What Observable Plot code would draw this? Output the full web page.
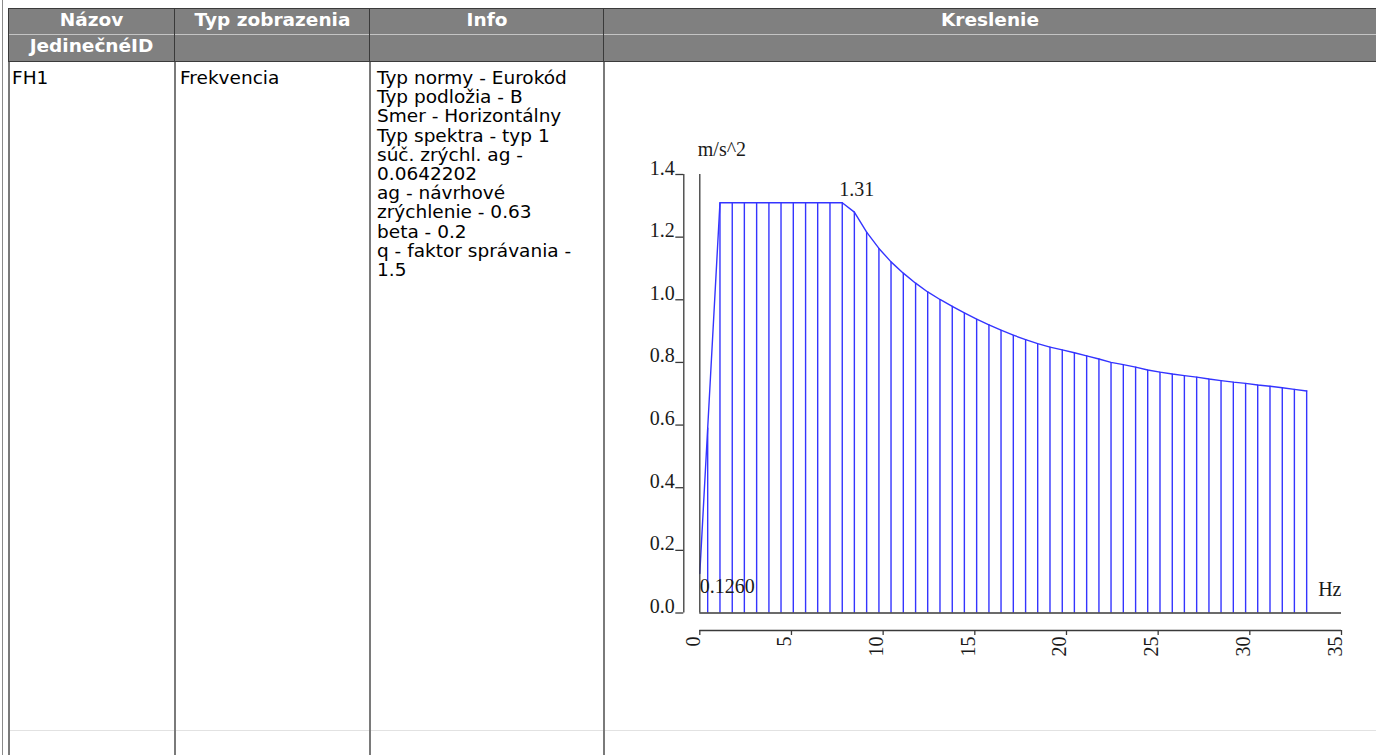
<!DOCTYPE html>
<html>
<head>
<meta charset="utf-8">
<script src="https://cdn.jsdelivr.net/npm/d3@7"></script>
<script src="https://cdn.jsdelivr.net/npm/@observablehq/plot@0.6"></script>
<style>
  html, body { margin: 0; padding: 0; background: #fff; }
  body { width: 1376px; height: 755px; position: relative; overflow: hidden; font-family: "DejaVu Sans", Verdana, sans-serif; }
  .abs { position: absolute; }
  .hdr { position: absolute; color: #fff; font-weight: bold; font-size: 18.5px; text-align: center; white-space: nowrap; }
  .cell { position: absolute; font-size: 18.5px; line-height: 19.2px; color: #000; white-space: pre; }
  #chart { position: absolute; left: 604px; top: 62px; }
</style>
</head>
<body>
<script>
// ---------------- data ----------------
const headers = ["Názov", "Typ zobrazenia", "Info", "Kreslenie"];
const subHeaders = ["JedinečnéID", "", "", ""];
const rowValues = ["FH1", "Frekvencia"];
const infoLines = [
  "Typ normy - Eurokód",
  "Typ podložia - B",
  "Smer - Horizontálny",
  "Typ spektra - typ 1",
  "súč. zrýchl. ag -",
  "0.0642202",
  "ag - návrhové",
  "zrýchlenie - 0.63",
  "beta - 0.2",
  "q - faktor správania -",
  "1.5"
];

// spectrum points: frequency [Hz] and acceleration [m/s^2]
const freq = [0, 0.43, 1.10, 1.77, 2.43, 3.10, 3.77, 4.43, 5.10, 5.77, 6.43, 7.10, 7.77,
  8.43, 9.10, 9.77, 10.43, 11.10, 11.77, 12.43, 13.10, 13.77, 14.43, 15.10, 15.77, 16.43,
  17.10, 17.77, 18.43, 19.10, 19.77, 20.43, 21.10, 21.77, 22.43, 23.10, 23.77, 24.43, 25.10,
  25.77, 26.43, 27.10, 27.77, 28.43, 29.10, 29.77, 30.43, 31.10, 31.77, 32.43, 33.10];
const accel = [0.126, 0.59, 1.31, 1.31, 1.31, 1.31, 1.31, 1.31, 1.31, 1.31, 1.31, 1.31, 1.31,
  1.28, 1.216, 1.164, 1.121, 1.085, 1.053, 1.025, 1.001, 0.979, 0.958, 0.938, 0.920, 0.903,
  0.887, 0.873, 0.860, 0.849, 0.840, 0.831, 0.821, 0.811, 0.800, 0.793, 0.785, 0.776, 0.769,
  0.763, 0.758, 0.753, 0.747, 0.742, 0.737, 0.733, 0.728, 0.724, 0.719, 0.714, 0.709];

const yTicks = [0, 0.2, 0.4, 0.6, 0.8, 1.0, 1.2, 1.4];
const xTicks = [0, 5, 10, 15, 20, 25, 30, 35];
const yUnit = "m/s^2";
const xUnit = "Hz";
const peakLabel = "1.31";
const startLabel = "0.1260";
const peakIndex = 12;   // last point of the plateau

// ---------------- table layout ----------------
const colX = [8, 175, 370, 604, 1376];
function div(cls, style, text) {
  const d = document.createElement("div");
  d.className = cls;
  Object.assign(d.style, style);
  if (text != null) d.textContent = text;
  document.body.appendChild(d);
  return d;
}
// header backgrounds
div("abs", {left: "8px", top: "8px", width: "1368px", height: "1px", background: "#3a3a3a"});
div("abs", {left: "8px", top: "9px", width: "1368px", height: "25px", background: "#808080"});
div("abs", {left: "8px", top: "34px", width: "1368px", height: "1px", background: "#c4c4c4"});
div("abs", {left: "8px", top: "35px", width: "1368px", height: "26px", background: "#808080"});
div("abs", {left: "8px", top: "61px", width: "1368px", height: "1px", background: "#3a3a3a"});
// light row line in body
div("abs", {left: "9px", top: "730px", width: "1367px", height: "1px", background: "#e2e2e2"});
// outer thin line
div("abs", {left: "2px", top: "0px", width: "1px", height: "755px", background: "#8a8a8a"});
// column lines
for (let i = 0; i < 4; i++) {
  div("abs", {left: (colX[i] - (i ? 1 : 0)) + "px", top: "8px", width: "1px", height: "54px", background: "#3a3a3a"});
  div("abs", {left: (colX[i] - (i ? 1 : 0)) + "px", top: "62px", width: "2px", height: "693px", background: "#7a7a7a"});
}
// header texts
headers.forEach((h, i) => {
  div("hdr", {left: colX[i] + "px", width: (colX[i + 1] - colX[i]) + "px", top: "9px", lineHeight: "21px"}, h);
});
subHeaders.forEach((h, i) => {
  if (h) div("hdr", {left: colX[i] + "px", width: (colX[i + 1] - colX[i]) + "px", top: "35px", lineHeight: "21px"}, h);
});
// body texts
div("cell", {left: "12px", top: "68px"}, rowValues[0]);
div("cell", {left: "180px", top: "68px"}, rowValues[1]);
div("cell", {left: "377px", top: "68px"}, infoLines.join("\n"));

// ---------------- chart ----------------
const pts = freq.map((f, i) => ({f, a: accel[i]}));
const hatch = pts.slice(1);
const blue = "#3434ff";
const axisColor = "#3a3a3a";

const chart = Plot.plot({
  width: 772,
  height: 668,
  marginLeft: 95.3,
  marginRight: 35,
  marginTop: 112,
  marginBottom: 117.5,
  style: {background: "transparent", fontFamily: "'Liberation Serif', 'Times New Roman', serif", fontSize: "20px", color: "#1a1a1a", overflow: "visible"},
  x: {domain: [0, 35]},
  y: {domain: [0, 1.4]},
  marks: [
    Plot.ruleX(hatch, {x: "f", y1: 0, y2: "a", stroke: blue, strokeWidth: 1.4}),
    Plot.line(pts, {x: "f", y: "a", stroke: blue, strokeWidth: 1.4}),
    // frame lines
    Plot.ruleY([0], {x1: 0, x2: 35, stroke: axisColor, strokeWidth: 1.3}),
    Plot.ruleX([0], {y1: 0, y2: 1.4, stroke: axisColor, strokeWidth: 1.3}),
    // y axis (offset to the left)
    Plot.ruleX([0], {y1: 0, y2: 1.4, dx: -16, stroke: axisColor, strokeWidth: 1.3}),
    Plot.axisY({ticks: yTicks, tickSize: 8, tickPadding: 1, dx: -16, lineAnchor: "bottom",
      tickFormat: d => d.toFixed(1), stroke: axisColor, strokeWidth: 1.3, fill: "#1a1a1a", fontSize: 20, label: null}),
    // x axis (offset below)
    Plot.ruleY([0], {x1: 0, x2: 35, dy: 17.5, stroke: axisColor, strokeWidth: 1.3}),
    Plot.axisX({ticks: xTicks, tickSize: 5, tickPadding: 1, dy: 17.5, tickRotate: -90, textAnchor: "end", lineAnchor: "bottom",
      tickFormat: d => String(d), stroke: axisColor, strokeWidth: 1.3, fill: "#1a1a1a", fontSize: 20, label: null}),
    // annotations
    Plot.text([yUnit], {x: 0, y: 1.4, text: d => d, textAnchor: "start", lineAnchor: "bottom", dx: -2, dy: -19, fill: "#1a1a1a", fontSize: 20}),
    Plot.text([xUnit], {x: 35, y: 0, text: d => d, textAnchor: "end", lineAnchor: "bottom", dy: -17, fill: "#1a1a1a", fontSize: 20}),
    Plot.text([pts[peakIndex]], {x: "f", y: "a", text: () => peakLabel, textAnchor: "start", lineAnchor: "bottom", dx: -3, dy: -7, fill: "#1a1a1a", fontSize: 20}),
    Plot.text([pts[0]], {x: "f", y: "a", text: () => startLabel, textAnchor: "start", lineAnchor: "bottom", dx: 0, dy: 19, fill: "#1a1a1a", fontSize: 20})
  ]
});
chart.id = "chart";
chart.style.maxWidth = "none";
document.body.appendChild(chart);
</script>
</body>
</html>
